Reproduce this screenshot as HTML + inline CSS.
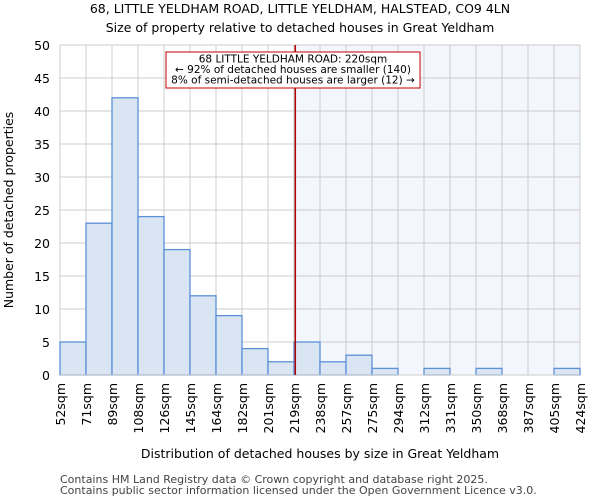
<!DOCTYPE html>
<html><head><meta charset="utf-8"><style>
body{margin:0;background:#fff;font-family:"DejaVu Sans","Liberation Sans",sans-serif;}
</style></head><body>
<svg id="chart" width="600" height="500" xmlns="http://www.w3.org/2000/svg" font-family="DejaVu Sans, Liberation Sans, sans-serif">
<text x="300" y="13" font-size="12.5" text-anchor="middle">68, LITTLE YELDHAM ROAD, LITTLE YELDHAM, HALSTEAD, CO9 4LN</text>
<text x="300" y="32" font-size="12.5" text-anchor="middle">Size of property relative to detached houses in Great Yeldham</text>
<g id="plot"></g>
<text x="320" y="458" font-size="12.5" text-anchor="middle">Distribution of detached houses by size in Great Yeldham</text>
<text transform="translate(13,210) rotate(-90)" font-size="12.5" text-anchor="middle">Number of detached properties</text>
<text x="60" y="483" font-size="11" fill="#444">Contains HM Land Registry data © Crown copyright and database right 2025.</text>
<text x="60" y="494" font-size="11" fill="#444">Contains public sector information licensed under the Open Government Licence v3.0.</text>
</svg>
<script>
const binLabels=["52sqm","71sqm","89sqm","108sqm","126sqm","145sqm","164sqm","182sqm","201sqm","219sqm","238sqm","257sqm","275sqm","294sqm","312sqm","331sqm","350sqm","368sqm","387sqm","405sqm","424sqm"];
const counts=[5,23,42,24,19,12,9,4,2,5,2,3,1,0,1,0,1,0,0,1];
const yTicks=[0,5,10,15,20,25,30,35,40,45,50];
const markerBin=9.05;
const NS="http://www.w3.org/2000/svg";
const X0=60,X1=580,Y0=375,Y1=45,YMAX=50;
const bw=(X1-X0)/counts.length;
const xs=i=>X0+i*bw;
const ys=v=>Y0-(v/YMAX)*(Y0-Y1);
const g=document.getElementById('plot');
function mk(t,a){const e=document.createElementNS(NS,t);for(const k in a)e.setAttribute(k,a[k]);g.appendChild(e);return e;}
const mx=xs(markerBin);
let e=mk('rect',{x:mx,y:Y1,width:X1-mx,height:Y0-Y1,fill:'#f3f6fd'});


yTicks.forEach(t=>{
 let l=mk('line',{x1:X0,x2:X1,y1:ys(t),y2:ys(t),stroke:'#cccccc'});
 
 
 let tx=mk('text',{x:X0-10,y:ys(t)+5,'font-size':12.5,'text-anchor':'end'});tx.textContent=t;
 
 
});
binLabels.forEach((b,i)=>{
 let l=mk('line',{x1:xs(i),x2:xs(i),y1:Y1,y2:Y0,stroke:'#cccccc'});
 
 
 let tx=mk('text',{x:0,y:0,'font-size':12.5,'text-anchor':'end',transform:`translate(${xs(i)+5},${Y0+8}) rotate(-90)`});tx.textContent=b;
 
 
});
counts.forEach((c,i)=>{
 if(c<=0)return;
 let r=mk('rect',{x:xs(i),y:ys(c),width:bw,height:Y0-ys(c),fill:'#dae5f4',stroke:'#5b8fd6','stroke-width':1.3});
 
 
});
e=mk('line',{x1:X0,x2:X1,y1:Y0,y2:Y0,stroke:'#cccccc'});


e=mk('line',{x1:mx,x2:mx,y1:Y1,y2:Y0,stroke:'#b00000','stroke-width':1.5});


e=mk('rect',{x:166,y:52,width:254,height:36,fill:'#fff',stroke:'#c00000'});


["68 LITTLE YELDHAM ROAD: 220sqm","← 92% of detached houses are smaller (140)","8% of semi-detached houses are larger (12) →"].forEach((s,k)=>{
 let t=mk('text',{x:293,y:62.5+k*10.5,'font-size':10.5,'text-anchor':'middle'});t.textContent=s;
 
 
});
</script>
</body></html>
